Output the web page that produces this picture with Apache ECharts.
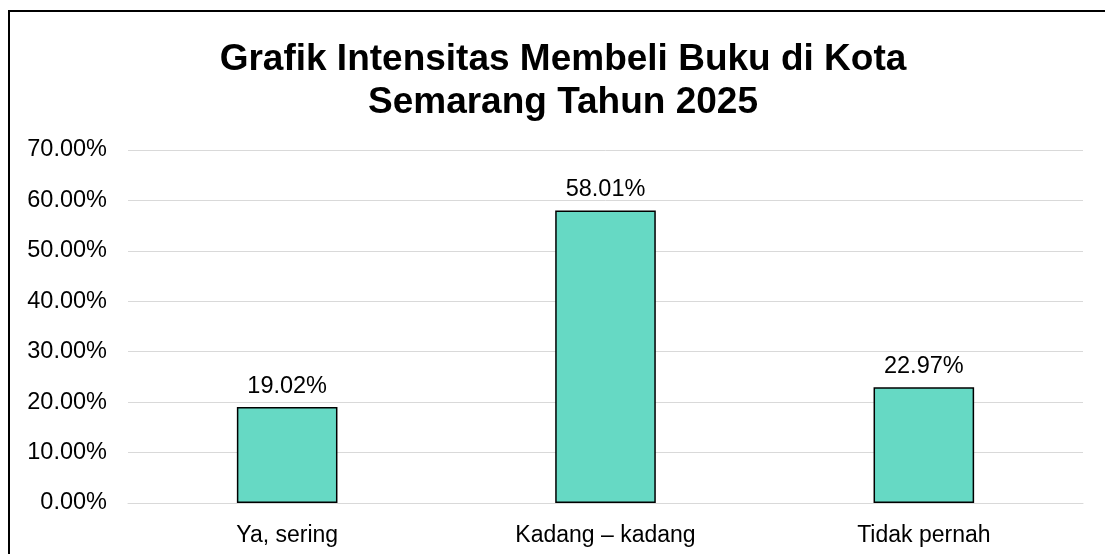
<!DOCTYPE html>
<html>
<head>
<meta charset="utf-8">
<script src="https://cdn.jsdelivr.net/npm/echarts@6/dist/echarts.min.js"></script>
<style>
  html, body { margin: 0; padding: 0; background: #fff; overflow: hidden; }
  #chart { width: 1105px; height: 554px; }
</style>
</head>
<body>
<div id="chart"></div>
<script>
// data
const categories = ['Ya, sering', 'Kadang – kadang', 'Tidak pernah'];
const values = [19.02, 58.01, 22.97];
const yTicks = [0, 10, 20, 30, 40, 50, 60, 70];

const font = '"Liberation Sans", Arial, sans-serif';

const myChart = echarts.init(document.getElementById('chart'));

const option = {
  animation: false,
  backgroundColor: '#fff',
  title: {
    text: 'Grafik Intensitas Membeli Buku di Kota\nSemarang Tahun 2025',
    left: 558,
    top: 33,
    textAlign: 'center',
    textStyle: {
      fontFamily: font,
      fontSize: 37,
      fontWeight: 'bold',
      color: '#000',
      lineHeight: 43,
    },
  },
  graphic: [
    {
      type: 'rect',
      shape: { x: 9, y: 11, width: 1200, height: 600 },
      style: { fill: 'none', stroke: '#000', lineWidth: 2 },
      silent: true,
    },
  ],
  grid: {
    left: 128,
    right: 22,
    top: 150,
    bottom: 51,
  },
  xAxis: {
    type: 'category',
    data: categories,
    axisLine: { lineStyle: { color: '#d9d9d9', width: 1 } },
    axisTick: { show: false },
    axisLabel: {
      fontFamily: font,
      fontSize: 23,
      color: '#000',
      margin: 21,
    },
  },
  yAxis: {
    type: 'value',
    min: yTicks[0],
    max: yTicks[yTicks.length - 1],
    interval: 10,
    axisLine: { show: false },
    axisTick: { show: false },
    splitLine: { lineStyle: { color: '#d9d9d9', width: 1 } },
    axisLabel: {
      fontFamily: font,
      fontSize: 23.5,
      color: '#000',
      margin: 21,
      padding: [4, 0, 0, 0],
      formatter: (v) => v.toFixed(2) + '%',
    },
  },
  series: [
    {
      type: 'bar',
      data: values,
      barWidth: '31.6%',
      itemStyle: {
        color: '#66d9c4',
        borderColor: '#000',
        borderWidth: 1.5,
      },
      label: {
        show: true,
        position: 'top',
        distance: 9,
        fontFamily: font,
        fontSize: 23.5,
        color: '#000',
        formatter: (p) => p.value.toFixed(2) + '%',
      },
    },
  ],
};

option && myChart.setOption(option);
</script>
</body>
</html>
